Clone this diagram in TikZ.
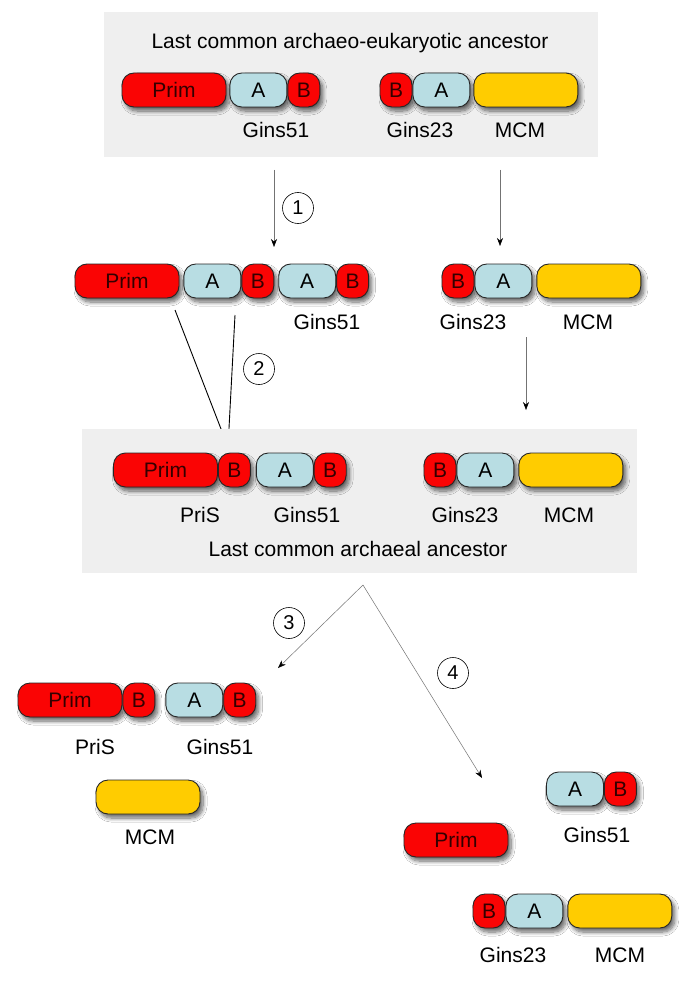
\documentclass[tikz,border=0pt]{standalone}
\usepackage{fontspec}
\setmainfont{Liberation Sans}
\usepackage{tikz}
\usetikzlibrary{arrows.meta,positioning,shadows.blur}
\definecolor{primred}{RGB}{250,4,4}
\definecolor{ginsblue}{RGB}{184,221,227}
\definecolor{mcmyellow}{RGB}{255,204,0}
\definecolor{boxgray}{RGB}{239,239,239}

\begin{document}
\begin{tikzpicture}[x=1pt, y=-1pt,
  every node/.style={font=\fontsize{21}{24}\selectfont},
  pill/.style={draw=black!85, line width=0.9pt, rounded corners=12pt, minimum height=34pt, inner sep=0pt, text=black!80!red,
    blur shadow={shadow xshift=3pt, shadow yshift=-4pt, shadow blur radius=4pt, shadow blur steps=8, shadow opacity=60}},
  primbox/.style={pill, fill=primred, minimum width=104pt},
  abox/.style={pill, fill=ginsblue, minimum width=57pt, text=black},
  bbox/.style={pill, fill=primred, minimum width=32pt},
  mcmbox/.style={pill, fill=mcmyellow, minimum width=104pt},
  lbl/.style={inner sep=0pt},
  stepnum/.style={draw, circle, line width=0.6pt, minimum size=31pt, inner sep=0pt, font=\fontsize{20}{22}\selectfont},
  evo/.style={draw=black!55, line width=0.5pt, -{Stealth[black, length=8pt, width=6pt]}},
]
\fill[white] (0,0) rectangle (685,987);
\useasboundingbox (0,0) rectangle (685,987);

% ===================== Last common archaeo-eukaryotic ancestor =====================
\fill[boxgray] (104,12) rectangle (598,157);
\node[lbl] (lcaeatitle) at (350,43) {Last common archaeo-eukaryotic ancestor};

\node[primbox] (prim1) at (174,90) {Prim};
\node[abox, right=3pt of prim1] (a1) {A};
\node[bbox, right=0pt of a1] (b1) {B};
\node[lbl] (g51a) at (276,130) {Gins51};

\node[bbox] (b2) at (396,90) {B};
\node[abox, right=0pt of b2] (a2) {A};
\node[mcmbox, right=3pt of a2] (mcm1) {};
\node[lbl] (g23a) at (420,130) {Gins23};
\node[lbl] (mcma) at (520,130) {MCM};

% step 1
\coordinate (s1) at (274,170);
\coordinate (e1) at (274,247);
\draw[evo] (s1) -- (e1);
\node[stepnum] (n1) at (298,208) {1};
\coordinate (s1r) at (500,170);
\coordinate (e1r) at (500,246);
\draw[evo] (s1r) -- (e1r);

% ===================== duplicated Gins51 =====================
\node[primbox] (prim2) at (127,281) {Prim};
\node[abox, right=4pt of prim2] (a3) {A};
\node[bbox, right=0pt of a3] (b3) {B};
\node[abox, right=4pt of b3] (a4) {A};
\node[bbox, right=0pt of a4] (b4) {B};
\node[lbl] (g51b) at (327,322) {Gins51};

\node[bbox] (b5) at (458,281) {B};
\node[abox, right=0pt of b5] (a5) {A};
\node[mcmbox, right=4pt of a5] (mcm2) {};
\node[lbl] (g23b) at (473,322) {Gins23};
\node[lbl] (mcmb) at (588,322) {MCM};

% step 2
\coordinate (f1) at (175,310);
\coordinate (f2) at (235,315);
\coordinate (fj) at (228,447);
\draw[line width=0.9pt] (f1) -- (fj) -- (f2);
\node[stepnum] (n2) at (259,369) {2};
\coordinate (s2r) at (526,337);
\coordinate (e2r) at (526,410);
\draw[evo] (s2r) -- (e2r);

% ===================== Last common archaeal ancestor =====================
\fill[boxgray] (82,429) rectangle (637,573);
\node[primbox] (prim3) at (165.5,470) {Prim};
\node[bbox, right=0pt of prim3] (b6) {B};
\node[abox, right=5pt of b6] (a6) {A};
\node[bbox, right=0pt of a6] (b7) {B};
\node[lbl] (pris1) at (200,515) {PriS};
\node[lbl] (g51c) at (307,515) {Gins51};

\node[bbox] (b8) at (440,470) {B};
\node[abox, right=0pt of b8] (a7) {A};
\node[mcmbox, right=4pt of a7] (mcm3) {};
\node[lbl] (g23c) at (465,515) {Gins23};
\node[lbl] (mcmc) at (569,515) {MCM};
\node[lbl] (lcaatitle) at (358,549) {Last common archaeal ancestor};

% steps 3 and 4
\coordinate (fork) at (363,585);
\coordinate (e3) at (278,668);
\coordinate (e4) at (482,778);
\draw[evo] (fork) -- (e3);
\draw[evo] (fork) -- (e4);
\node[stepnum] (n3) at (289,623) {3};
\node[stepnum] (n4) at (453,673) {4};

% ===================== branch 3 =====================
\node[primbox] (prim4) at (70,700) {Prim};
\node[bbox, right=0pt of prim4] (b9) {B};
\node[abox, right=10pt of b9] (a8) {A};
\node[bbox, right=0pt of a8] (b10) {B};
\node[lbl] (pris2) at (95,747) {PriS};
\node[lbl] (g51d) at (220,747) {Gins51};
\node[mcmbox] (mcm4) at (148,797) {};
\node[lbl] (mcmd) at (150,837) {MCM};

% ===================== branch 4 =====================
\node[abox] (a9) at (575,789) {A};
\node[bbox, right=0pt of a9] (b11) {B};
\node[lbl] (g51e) at (597,835) {Gins51};
\node[primbox] (prim5) at (456,840) {Prim};

\node[bbox] (b12) at (489,911) {B};
\node[abox, right=0pt of b12] (a10) {A};
\node[mcmbox, right=4pt of a10] (mcm5) {};
\node[lbl] (g23e) at (513,955) {Gins23};
\node[lbl] (mcme) at (620,955) {MCM};

\end{tikzpicture}
\end{document}
